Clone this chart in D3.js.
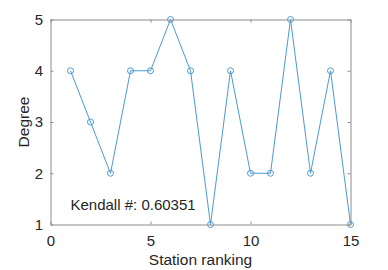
<!DOCTYPE html>
<html>
<head>
<meta charset="utf-8">
<script src="https://cdn.jsdelivr.net/npm/d3@7"></script>
<style>
  body { margin: 0; background: #fff; }
  text { font-family: "Liberation Sans", Arial, sans-serif; fill: #262626; }
</style>
</head>
<body>
<script>
var width = 388,
  height = 270;

var ranking = [1, 2, 3, 4, 5, 6, 7, 8, 9, 10, 11, 12, 13, 14, 15];
var degree = [4, 3, 2, 4, 4, 5, 4, 1, 4, 2, 2, 5, 2, 4, 1];
var xTicks = [0, 5, 10, 15];
var yTicks = [1, 2, 3, 4, 5];
var kendallLabel = "Kendall #: 0.60351";

var scaleX = d3.scaleLinear()
                .domain([0, 15])
                .range([50.5, 350.5]);

var scaleY = d3.scaleLinear()
                .domain([1, 5])
                .range([224.5, 19.5]);

var lineColor = "#4a9ad6";
var axisColor = "#8c8c8c";

function drawAxes(svg) {
  var bottom = svg.append("g")
                  .attr("transform", "translate(0," + scaleY(1) + ")")
                  .call(d3.axisBottom(scaleX).tickValues(xTicks).tickFormat(d3.format("d"))
                          .tickSizeInner(-3).tickSizeOuter(0).tickPadding(11));
  var left = svg.append("g")
                .attr("transform", "translate(" + scaleX(0) + ",0)")
                .call(d3.axisLeft(scaleY).tickValues(yTicks).tickFormat(d3.format("d"))
                        .tickSizeInner(-3).tickSizeOuter(0).tickPadding(7.5));
  var top = svg.append("g")
               .attr("transform", "translate(0," + scaleY(5) + ")")
               .call(d3.axisTop(scaleX).tickValues(xTicks).tickSizeInner(-3).tickSizeOuter(0).tickFormat(""));
  var right = svg.append("g")
                 .attr("transform", "translate(" + scaleX(15) + ",0)")
                 .call(d3.axisRight(scaleY).tickValues(yTicks).tickSizeInner(-3).tickSizeOuter(0).tickFormat(""));

  [bottom, left, top, right].forEach(function(g) {
    g.selectAll("path").style("stroke", axisColor);
    g.selectAll("line").style("stroke", axisColor);
    g.selectAll("text")
     .style("font-size", "15px")
     .style("fill", "#262626")
     .style("font-family", "Liberation Sans, Arial, sans-serif");
  });

  svg.append("text")
     .attr("x", (scaleX(0) + scaleX(15)) / 2)
     .attr("y", 265)
     .attr("text-anchor", "middle")
     .style("font-size", "15.5px")
     .text("Station ranking");

  svg.append("text")
     .attr("transform", "translate(28.5," + scaleY(3) + ") rotate(-90)")
     .attr("text-anchor", "middle")
     .style("font-size", "15.5px")
     .text("Degree");
}

function drawSeries(svg) {
  var pts = ranking.map(function(r, i) { return [r, degree[i]]; });

  var line = d3.line()
               .x(function(d) { return scaleX(d[0]); })
               .y(function(d) { return scaleY(d[1]); });

  svg.append("path")
     .datum(pts)
     .attr("d", line)
     .style("fill", "none")
     .style("stroke", lineColor)
     .style("stroke-width", 1);

  svg.selectAll("circle.pt")
     .data(pts)
     .enter()
     .append("circle")
     .attr("class", "pt")
     .attr("cx", function(d) { return scaleX(d[0]); })
     .attr("cy", function(d) { return scaleY(d[1]); })
     .attr("r", 3)
     .style("fill", "none")
     .style("stroke", lineColor)
     .style("stroke-width", 1);

  svg.append("text")
     .attr("x", 70.5)
     .attr("y", 210)
     .style("font-size", "15px")
     .text(kendallLabel);
}

var svg = d3.select("body").append("svg")
            .attr("width", width)
            .attr("height", height);

drawSeries(svg);
drawAxes(svg);
</script>
</body>
</html>
